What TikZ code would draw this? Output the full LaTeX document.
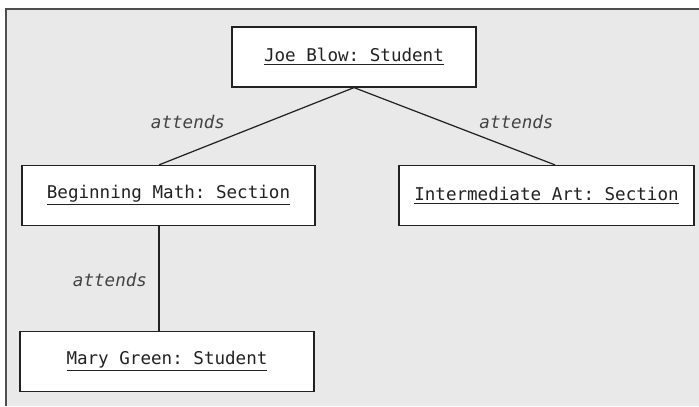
\documentclass[tikz,border=0pt]{standalone}
\usepackage{fontspec}
\setmonofont{DejaVu Sans Mono}
\usepackage{tikz}
\usetikzlibrary{positioning,calc}
\definecolor{panel}{HTML}{E8E9E8}
\definecolor{ink}{HTML}{222222}
\begin{document}
\begin{tikzpicture}[x=0.02cm,y=-0.02cm,font=\ttfamily\fontsize{10}{12}\selectfont,
  obj/.style={draw=ink,fill=white,line width=0.7pt,minimum height=1.2cm,inner sep=0pt,text=ink},
  link/.style={ink,line width=0.7pt},
  role/.style={font=\ttfamily\itshape\fontsize{10}{12}\selectfont,text=ink!85}]
\useasboundingbox (0,0) rectangle (699,406);
\fill[panel] (6,9) rectangle (699,406);
\draw[ink!80,line width=0.8pt] (6,406)--(6,9)--(699,9);
\node[obj,minimum width=4.88cm] (joe) at (354,57) {\underline{Joe Blow: Student}};
\node[obj,minimum width=5.86cm] (math) at (168.5,195.5) {\underline{Beginning Math: Section}};
\node[obj,minimum width=5.9cm] (art) at (546.5,195.5) {\underline{Intermediate Art: Section}};
\node[obj,minimum width=5.88cm] (mary) at (167,361.5) {\underline{Mary Green: Student}};
\draw[link](joe.south)--([xshift=-0.19cm]math.north);
\draw[link](joe.south)--([xshift=0.17cm]art.north);
\draw[link]([xshift=-0.19cm]math.south)--([xshift=-0.19cm]math.south |- mary.north);
\node[role] (r1) at (188,122) {attends};
\node[role] (r2) at (516.5,122) {attends};
\node[role] (r3) at (110,280) {attends};
\end{tikzpicture}
\end{document}
